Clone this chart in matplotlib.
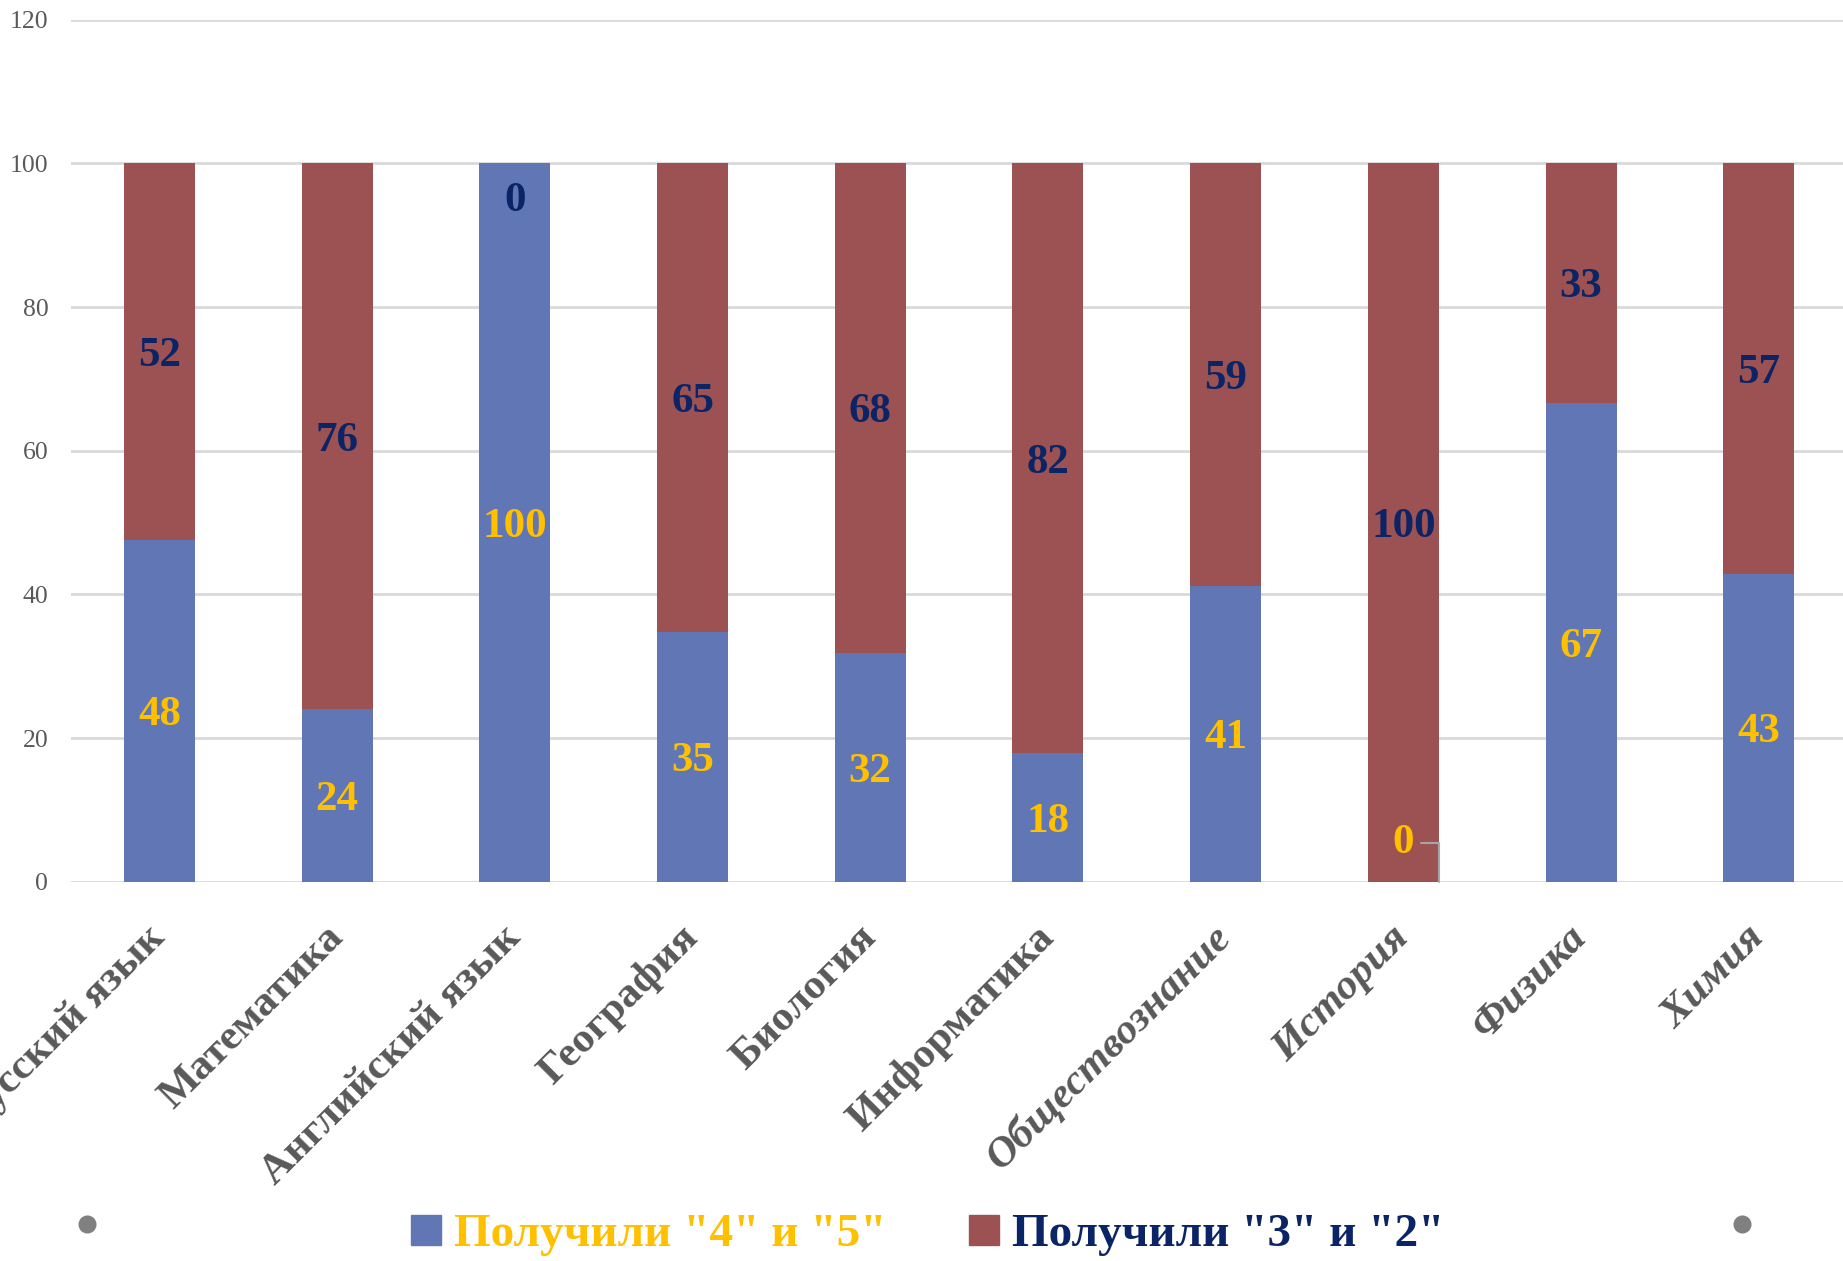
import matplotlib
matplotlib.use("Agg")
import matplotlib.pyplot as plt
from matplotlib.lines import Line2D
import numpy as np

categories = ["Русский язык", "Математика", "Английский язык", "География", "Биология",
              "Информатика", "Обществознание", "История", "Физика", "Химия"]
good = [47.6, 24.1, 100.0, 34.8, 31.9, 17.9, 41.2, 0.0, 66.7, 42.9]   # "4" и "5"
weak = [52.4, 75.9, 0.0, 65.2, 68.1, 82.1, 58.8, 100.0, 33.3, 57.1]   # "3" и "2"
italic_labels = ["Обществознание", "История", "Физика", "Химия"]
yticks = [0, 20, 40, 60, 80, 100, 120]
legend_labels = ['Получили "4" и "5"', 'Получили "3" и "2"']

BLUE = "#6176B5"
RED = "#9C5252"
YELLOW = "#FFC000"
NAVY = "#0B2466"
TICK = "#595959"
GRID = "#D9D9D9"
SERIF = ["Liberation Serif", "DejaVu Serif"]

fig = plt.figure(figsize=(18.43, 12.61), dpi=100)
ax = fig.add_axes([0.0383, 0.3006, 0.9642, 0.6839])

x = np.arange(len(categories))
good_a = np.array(good)
weak_a = np.array(weak)
ax.bar(x, good_a, width=0.4, color=BLUE, zorder=2)
ax.bar(x, weak_a, width=0.4, bottom=good_a, color=RED, zorder=2)

ax.set_xlim(-0.5, len(categories) - 0.5)
ax.set_ylim(0, 120)
ax.set_yticks(yticks)
ax.grid(axis="y", color=GRID, linewidth=2, zorder=0)
for s in ax.spines.values():
    s.set_visible(False)
ax.tick_params(axis="both", length=0)
ax.tick_params(axis="y", pad=16, labelsize=18.5, labelcolor=TICK)
for lab in ax.get_yticklabels():
    lab.set_family(SERIF)

ax.set_xticks(x)
ax.set_xticklabels(categories)
ax.tick_params(axis="x", pad=36)
for lab in ax.get_xticklabels():
    lab.set_family(SERIF)
    lab.set_fontsize(31)
    lab.set_color(TICK)
    lab.set_fontweight("bold")
    lab.set_rotation(45)
    lab.set_ha("right")
    lab.set_va("center")
    lab.set_rotation_mode("anchor")
    if lab.get_text() in italic_labels:
        lab.set_style("italic")

lbl_kw = dict(ha="center", va="center_baseline", fontsize=31, fontweight="bold",
              family=SERIF, zorder=4)
for xi, g, w in zip(x, good_a, weak_a):
    # blue segment label
    if g > 0:
        ax.text(xi, g / 2, f"{g:.0f}", color=YELLOW, **lbl_kw)
    else:
        ax.annotate(f"{g:.0f}", xy=(xi + 0.2, 0), xytext=(xi, 6), textcoords="data",
                    color=YELLOW, arrowprops=dict(arrowstyle="-", color="#A6A6A6", lw=1.5,
                                                  shrinkA=3, shrinkB=0,
                                                  connectionstyle="angle,angleA=0,angleB=90,rad=0"),
                    **lbl_kw)
    # red segment label
    if w > 0:
        ax.text(xi, g + w / 2, f"{w:.0f}", color=NAVY, **lbl_kw)
    else:
        ax.annotate(f"{w:.0f}", xy=(xi, g), xytext=(0, -24), textcoords="offset points",
                    color=NAVY, **lbl_kw)

handles = [Line2D([], [], marker="s", linestyle="none", markersize=21, color=BLUE),
           Line2D([], [], marker="s", linestyle="none", markersize=21, color=RED)]
leg = fig.legend(handles, legend_labels, loc="center", bbox_to_anchor=(0.503, 0.021),
                 ncol=2, frameon=False, handlelength=0.7, handletextpad=0.25,
                 columnspacing=1.7, prop=dict(family=SERIF, size=34, weight="bold"))
for t, c in zip(leg.get_texts(), [YELLOW, NAVY]):
    t.set_color(c)

for cx in (87 / 1843, 1742 / 1843):
    fig.add_artist(Line2D([cx], [1 - 1224 / 1261], marker="o", markersize=12,
                          color="#808080", linestyle="none", transform=fig.transFigure))

fig.savefig("out.png", dpi=100)
